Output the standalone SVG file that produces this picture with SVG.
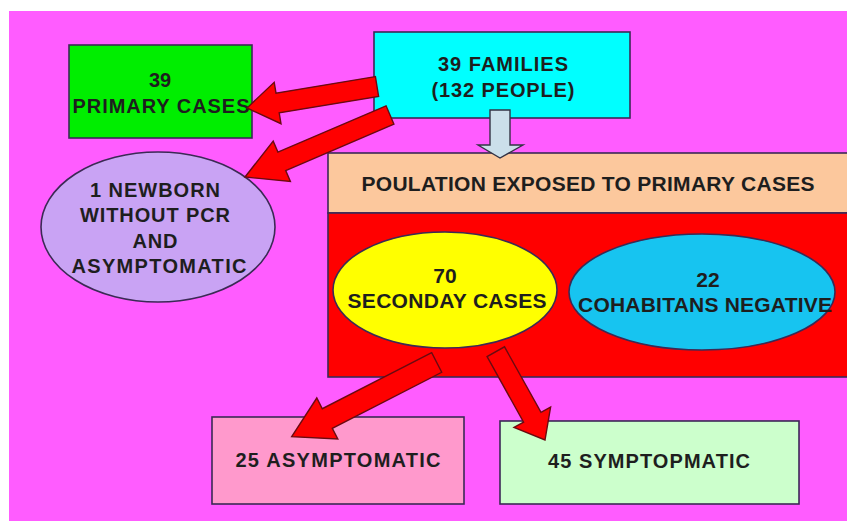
<svg xmlns="http://www.w3.org/2000/svg" width="847" height="521" viewBox="0 0 847 521">
<style>
.box{stroke:#3b2a55;stroke-width:1.6}
.t{font-family:"Liberation Sans",Arial,sans-serif;font-weight:bold;fill:#1e1e1e;text-anchor:middle}
.s18{font-size:20px}
.s19{font-size:21px}
.s20{font-size:21px}
.arrow{fill:#ff0000;stroke:#6a0a10;stroke-width:1.4;stroke-linejoin:miter}
</style>
<rect x="0" y="0" width="847" height="521" fill="#ffffff"/>
<rect x="9" y="11" width="838" height="510" fill="#ff5cff"/>

<g id="population">
<rect class="box" x="328" y="153" width="525" height="60" fill="#fcc89d"/>
<text class="t s20" x="588" y="191" textLength="453" lengthAdjust="spacing">POULATION EXPOSED TO PRIMARY CASES</text>
</g>
<g id="exposed-group">
<rect class="box" x="328" y="213" width="525" height="164" fill="#ff0000"/>
</g>

<g id="families">
<rect class="box" x="374" y="32" width="256" height="86" fill="#00ffff"/>
<text class="t s18" x="503" y="71" textLength="130" lengthAdjust="spacing">39 FAMILIES</text>
<text class="t s18" x="503" y="97" textLength="143" lengthAdjust="spacing">(132 PEOPLE)</text>
</g>
<g id="down-arrow">
<polygon points="490,110 510,110 510,145 523,145 500,158 478,145 490,145" fill="#cbdfea" stroke="#333344" stroke-width="1.4"/>
</g>

<g id="primary">
<rect class="box" x="69" y="45" width="183" height="93" fill="#00ee00"/>
<text class="t s18" x="160" y="87" fill="#1a3a1a">39</text>
<text class="t s18" x="161" y="113" textLength="177" lengthAdjust="spacing">PRIMARY CASES</text>
</g>

<g id="newborn">
<ellipse class="box" cx="158" cy="227" rx="117" ry="75" fill="#c9a3f4"/>
<text class="t s18" x="155" y="197" textLength="130" lengthAdjust="spacing">1 NEWBORN</text>
<text class="t s18" x="155" y="222" textLength="150" lengthAdjust="spacing">WITHOUT PCR</text>
<text class="t s18" x="155" y="248" textLength="45" lengthAdjust="spacing">AND</text>
<text class="t s18" x="159" y="273" textLength="175" lengthAdjust="spacing">ASYMPTOMATIC</text>
</g>

<g id="secondary">
<ellipse class="box" cx="445" cy="290" rx="112" ry="58" fill="#ffff00"/>
<text class="t s19" x="445" y="283">70</text>
<text class="t s19" x="447" y="308" textLength="199" lengthAdjust="spacing">SECONDAY CASES</text>
</g>
<g id="negative">
<ellipse class="box" cx="702" cy="292" rx="133" ry="58" fill="#17c4f0"/>
<text class="t s19" x="708" y="287">22</text>
<text class="t s19" x="705" y="312" textLength="254" lengthAdjust="spacing">COHABITANS NEGATIVE</text>
</g>

<g id="asymptomatic">
<rect class="box" x="212" y="417" width="252" height="87" fill="#ff99cc"/>
<text class="t s18" x="338" y="467" textLength="205" lengthAdjust="spacing">25 ASYMPTOMATIC</text>
</g>
<g id="symptomatic">
<rect class="box" x="500" y="421" width="299" height="83" fill="#ccffcc"/>
<text class="t s18" x="649" y="468" textLength="202" lengthAdjust="spacing">45 SYMPTOPMATIC</text>
</g>

<g id="connectors">
<polygon class="arrow" points="375.4,76.6 276,93.1 274.2,82.3 247,108 281,123.7 279.2,112.9 378.6,96.4"/>
<polygon class="arrow" points="386.1,105.8 277.9,152.1 273.2,141.1 245,177 290.4,181.5 285.7,170.5 393.9,124.2"/>
<polygon class="arrow" points="431.7,352.7 322.3,408.7 316.8,398 291.7,436.7 337.8,439 332.3,428.3 441.7,372.3"/>
<polygon class="arrow" points="487.1,356.6 523.6,422.2 514,427.5 545,440 550.6,407.1 541,412.4 504.5,346.8"/>
</g>
</svg>
